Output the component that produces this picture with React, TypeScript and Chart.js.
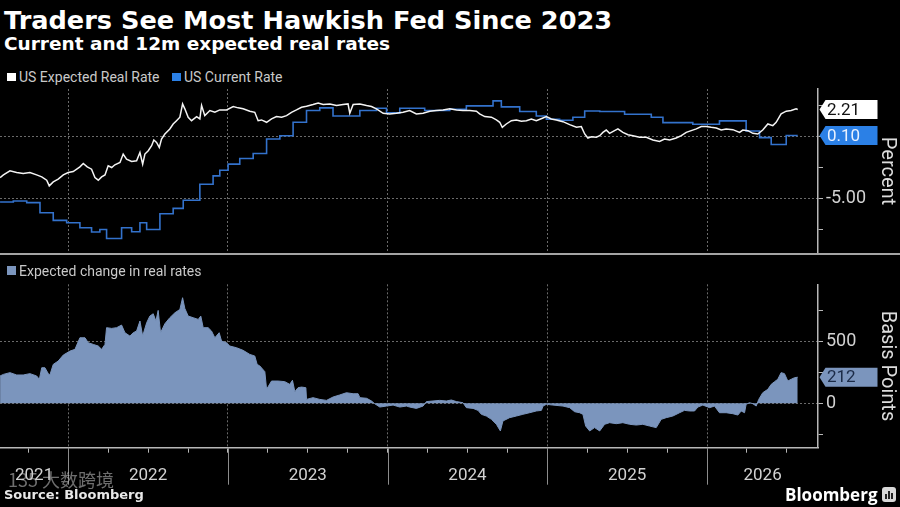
import React, { useEffect, useRef } from "react";
import { Chart, registerables } from "chart.js";

Chart.register(...registerables);

// ---------- axis definitions ----------
const X_MIN = 2021.5726;
const X_MAX = 2026.695;
const yearBoundaries = [2022, 2023, 2024, 2025, 2026];
const quarterTicks = [
  2021.75, 2022, 2022.25, 2022.5, 2022.75, 2023, 2023.25, 2023.5, 2023.75,
  2024, 2024.25, 2024.5, 2024.75, 2025, 2025.25, 2025.5, 2025.75, 2026,
  2026.25, 2026.5,
];
const yearLabels = ["2021", "2022", "2023", "2024", "2025", "2026"];
const yearLabelAt = [2021.786, 2022.5, 2023.5, 2024.5, 2025.5, 2026.348];

const percentTicks = [-7.5, -5, -2.5, 0, 2.5];
const percentMin = -9.44;
const percentMax = 3.87;
const bpTicks = [-250, 0, 250, 500, 750];
const bpMin = -360;
const bpMax = 966;

// ---------- series (decimal year, value) ----------
const expectedRealRate: [number, number][] = [
  [2021.573, -3.32], [2021.594, -3.1], [2021.635, -2.77], [2021.677, -2.91], [2021.718, -2.99],
  [2021.76, -2.91], [2021.802, -3.1], [2021.834, -3.26], [2021.865, -3.53], [2021.881, -3.99],
  [2021.906, -3.67], [2021.937, -3.45], [2021.969, -3.1], [2022.0, -2.91], [2022.031, -2.83],
  [2022.073, -2.45], [2022.094, -2.17], [2022.119, -2.45], [2022.146, -2.64], [2022.167, -3.32],
  [2022.188, -3.53], [2022.209, -3.26], [2022.23, -3.1], [2022.25, -2.36], [2022.272, -2.5],
  [2022.292, -2.28], [2022.324, -2.09], [2022.344, -1.41], [2022.365, -1.82], [2022.397, -2.01],
  [2022.428, -1.96], [2022.449, -1.28], [2022.466, -2.23], [2022.48, -1.41], [2022.501, -1.14],
  [2022.522, -0.73], [2022.536, -0.27], [2022.553, -0.46], [2022.57, -0.87], [2022.584, -0.19],
  [2022.605, 0.22], [2022.636, 0.63], [2022.657, 1.03], [2022.678, 1.3], [2022.699, 1.58],
  [2022.716, 2.66], [2022.73, 2.26], [2022.751, 1.58], [2022.772, 1.3], [2022.804, 1.63],
  [2022.824, 1.44], [2022.835, 2.53], [2022.855, 1.71], [2022.887, 2.12], [2022.918, 1.98],
  [2022.949, 2.17], [2022.991, 2.17], [2023.033, 2.45], [2023.064, 2.34], [2023.095, 2.26],
  [2023.137, 2.07], [2023.168, 1.98], [2023.189, 1.3], [2023.21, 1.36], [2023.242, 1.17],
  [2023.273, 1.44], [2023.304, 1.63], [2023.336, 1.58], [2023.367, 1.71], [2023.398, 1.98],
  [2023.429, 2.17], [2023.461, 2.39], [2023.492, 2.47], [2023.533, 2.61], [2023.565, 2.74],
  [2023.596, 2.61], [2023.638, 2.66], [2023.68, 2.53], [2023.721, 2.61], [2023.752, 2.66],
  [2023.763, 1.9], [2023.784, 2.61], [2023.826, 2.66], [2023.868, 2.53], [2023.899, 2.45],
  [2023.93, 2.26], [2023.972, 1.9], [2024.013, 1.85], [2024.055, 1.9], [2024.097, 1.98],
  [2024.138, 2.12], [2024.18, 1.85], [2024.222, 1.9], [2024.264, 2.07], [2024.305, 2.12],
  [2024.347, 2.17], [2024.389, 2.26], [2024.431, 2.17], [2024.472, 2.12], [2024.514, 2.12],
  [2024.556, 2.07], [2024.576, 1.85], [2024.608, 1.63], [2024.65, 1.58], [2024.681, 1.36],
  [2024.702, 1.17], [2024.718, 0.76], [2024.743, 1.03], [2024.775, 1.3], [2024.806, 1.36],
  [2024.837, 1.25], [2024.869, 1.3], [2024.9, 1.44], [2024.931, 1.3], [2024.973, 1.52],
  [2024.994, 1.63], [2025.025, 1.44], [2025.056, 1.36], [2025.098, 1.22], [2025.14, 0.98],
  [2025.182, 0.76], [2025.213, 0.82], [2025.234, 0.22], [2025.254, -0.11], [2025.276, 0.0],
  [2025.307, -0.05], [2025.328, 0.08], [2025.348, 0.35], [2025.369, 0.54], [2025.39, 0.27],
  [2025.421, 0.49], [2025.442, 0.63], [2025.473, 0.35], [2025.505, 0.16], [2025.536, 0.08],
  [2025.578, -0.05], [2025.62, -0.05], [2025.661, -0.27], [2025.703, -0.38], [2025.734, -0.19],
  [2025.766, -0.27], [2025.807, -0.11], [2025.839, 0.08], [2025.87, 0.35], [2025.901, 0.49],
  [2025.933, 0.63], [2025.964, 0.82], [2025.995, 0.82], [2026.026, 0.76], [2026.058, 0.71],
  [2026.089, 0.54], [2026.12, 0.63], [2026.162, 0.57], [2026.204, 0.35], [2026.224, 0.54],
  [2026.256, 0.49], [2026.287, 0.27], [2026.318, 0.22], [2026.349, 0.54], [2026.381, 1.03],
  [2026.412, 0.9], [2026.433, 1.17], [2026.464, 1.85], [2026.496, 2.07], [2026.527, 2.12],
  [2026.558, 2.26], [2026.568, 2.21],
];

// step starts (value holds until the next date)
const currentRate: [number, number][] = [
  [2021.573, -5.3], [2021.656, -5.22], [2021.74, -5.35], [2021.823, -6.17], [2021.906, -6.79],
  [2021.99, -6.98], [2022.073, -7.39], [2022.146, -7.74], [2022.198, -7.53], [2022.24, -8.26],
  [2022.334, -7.39], [2022.397, -7.72], [2022.449, -6.98], [2022.491, -7.53], [2022.574, -6.25],
  [2022.657, -5.82], [2022.72, -5.16], [2022.824, -3.86], [2022.907, -3.18], [2022.949, -2.72],
  [2023.001, -2.23], [2023.074, -1.77], [2023.158, -1.36], [2023.242, -0.19], [2023.325, 0.08],
  [2023.408, 1.17], [2023.492, 2.12], [2023.575, 2.34], [2023.658, 1.68], [2023.826, 2.12],
  [2023.93, 2.31], [2023.993, 1.93], [2024.076, 2.31], [2024.232, 2.12], [2024.389, 2.23],
  [2024.493, 2.5], [2024.66, 2.91], [2024.712, 2.42], [2024.827, 2.04], [2024.931, 1.68],
  [2024.994, 1.41], [2025.077, 1.33], [2025.16, 1.58], [2025.234, 2.09], [2025.328, 2.04],
  [2025.484, 1.82], [2025.651, 1.58], [2025.724, 1.14], [2025.911, 1.01], [2026.078, 1.28],
  [2026.245, 0.46], [2026.329, -0.08], [2026.402, -0.63], [2026.496, 0.1], [2026.568, 0.1],
];

const expectedChangeBp: [number, number][] = [
  [2021.573, 222], [2021.594, 235], [2021.635, 249], [2021.677, 230], [2021.718, 230],
  [2021.76, 241], [2021.802, 222], [2021.819, 195], [2021.834, 289], [2021.854, 289],
  [2021.875, 241], [2021.885, 230], [2021.906, 316], [2021.937, 343], [2021.969, 392],
  [2022.011, 424], [2022.042, 438], [2022.073, 532], [2022.105, 532], [2022.125, 492],
  [2022.157, 478], [2022.188, 465], [2022.209, 438], [2022.23, 478], [2022.24, 614],
  [2022.272, 608], [2022.303, 614], [2022.334, 635], [2022.355, 573], [2022.386, 546],
  [2022.407, 573], [2022.428, 587], [2022.449, 668], [2022.466, 546], [2022.491, 654],
  [2022.511, 708], [2022.532, 727], [2022.549, 668], [2022.563, 754], [2022.578, 573],
  [2022.605, 646], [2022.636, 695], [2022.668, 735], [2022.699, 762], [2022.716, 857],
  [2022.73, 770], [2022.751, 708], [2022.782, 695], [2022.814, 681], [2022.83, 708],
  [2022.845, 614], [2022.876, 614], [2022.897, 587], [2022.918, 532], [2022.945, 573],
  [2022.96, 505], [2022.991, 492], [2023.012, 465], [2023.054, 451], [2023.095, 430],
  [2023.137, 397], [2023.168, 384], [2023.183, 316], [2023.2, 303], [2023.231, 257],
  [2023.242, 114], [2023.273, 181], [2023.314, 181], [2023.356, 176], [2023.387, 154],
  [2023.404, 187], [2023.419, 95], [2023.439, 127], [2023.461, 132], [2023.488, 127],
  [2023.492, 32], [2023.533, 46], [2023.575, 32], [2023.617, 24], [2023.658, 51],
  [2023.7, 68], [2023.742, 86], [2023.784, 78], [2023.815, 78], [2023.826, 46],
  [2023.868, 41], [2023.899, 19], [2023.919, -3], [2023.951, -30], [2023.993, -22],
  [2024.034, -14], [2024.076, -30], [2024.118, -22], [2024.138, -30], [2024.18, -41],
  [2024.222, -22], [2024.243, 14], [2024.284, 19], [2024.326, 24], [2024.368, 19],
  [2024.399, 27], [2024.431, 14], [2024.472, 5], [2024.493, -35], [2024.535, -41],
  [2024.566, -57], [2024.587, -89], [2024.618, -103], [2024.65, -130], [2024.681, -170],
  [2024.706, -224], [2024.722, -143], [2024.764, -116], [2024.806, -103], [2024.847, -89],
  [2024.889, -76], [2024.931, -62], [2024.963, -57], [2024.973, -22], [2024.994, -8],
  [2025.035, -14], [2025.098, -22], [2025.14, -35], [2025.171, -68], [2025.202, -76],
  [2025.223, -89], [2025.24, -184], [2025.265, -224], [2025.296, -197], [2025.328, -224],
  [2025.359, -170], [2025.39, -157], [2025.432, -165], [2025.473, -157], [2025.515, -170],
  [2025.557, -176], [2025.598, -170], [2025.64, -184], [2025.682, -197], [2025.713, -130],
  [2025.745, -116], [2025.786, -103], [2025.828, -76], [2025.859, -57], [2025.891, -62],
  [2025.922, -62], [2025.943, -30], [2025.974, -14], [2026.016, -35], [2026.047, -22],
  [2026.078, -76], [2026.12, -76], [2026.162, -84], [2026.193, -95], [2026.214, -62],
  [2026.235, -76], [2026.245, -8], [2026.266, 5], [2026.287, -3], [2026.308, -22],
  [2026.324, 32], [2026.349, 86], [2026.381, 114], [2026.402, 154], [2026.423, 176],
  [2026.443, 195], [2026.464, 249], [2026.485, 241], [2026.506, 181], [2026.527, 195],
  [2026.548, 208], [2026.568, 212],
];

// ---------- styling ----------
const WHITE_LINE = "#f4f4f4";
const BLUE_LINE = "#3372cc";
const BLUE_BOX = "#2b80e6";
const AREA = "#7b95bd";
const GRID = "#6a6a6a";
const AXIS = "#b8b8b8";
const TEXT = "#d2d2d2";
const FONT = "Roboto";

const near = (a: number, b: number) => Math.abs(a - b) < 1e-6;
const isYear = (v: number) => yearBoundaries.some((y) => near(y, v));
const isQuarter = (v: number) => quarterTicks.some((y) => near(y, v));
const TRANSPARENT = "rgba(0,0,0,0)";

function zeroPadding(scale: any) {
  scale.paddingTop = 0;
  scale.paddingBottom = 0;
  scale.paddingLeft = 0;
  scale.paddingRight = 0;
}

const valueBoxes = {
  id: "valueBoxes",
  afterDraw(chart: any, _args: any, opts: any) {
    const { ctx, chartArea } = chart;
    const yScale = chart.scales.y;
    (opts.boxes || []).forEach((b: any) => {
      const data = chart.data.datasets[b.dataset].data;
      const last = data[data.length - 1].y;
      const y = yScale.getPixelForValue(last);
      const tip = chartArea.right + 1.5;
      const body = tip + 6;
      const right = tip + 58;
      const h = 19;
      ctx.save();
      ctx.beginPath();
      ctx.moveTo(tip, y);
      ctx.lineTo(body, y - h / 2);
      ctx.lineTo(right, y - h / 2);
      ctx.lineTo(right, y + h / 2);
      ctx.lineTo(body, y + h / 2);
      ctx.closePath();
      ctx.fillStyle = b.fill;
      ctx.fill();
      ctx.font = `17px ${FONT}`;
      ctx.fillStyle = b.color;
      ctx.textBaseline = "middle";
      ctx.textAlign = "left";
      ctx.fillText(last.toFixed(b.decimals), body + 1.5, y + 1);
      ctx.restore();
    });
  },
};

const yearExtensions = {
  id: "yearExtensions",
  afterDraw(chart: any) {
    const { ctx, chartArea } = chart;
    const x = chart.scales.x;
    ctx.save();
    ctx.strokeStyle = "#8c8c8c";
    ctx.lineWidth = 1;
    yearBoundaries.forEach((v) => {
      const px = Math.round(x.getPixelForValue(v)) + 0.5;
      ctx.beginPath();
      ctx.moveTo(px, chartArea.bottom);
      ctx.lineTo(px, chartArea.bottom + 37);
      ctx.stroke();
    });
    ctx.restore();
  },
};

function yAxis(min: number, max: number, ticks: number[], major: number, fmt: (v: number) => string, title: string) {
  return {
    position: "right",
    min,
    max,
    afterBuildTicks: (s: any) => {
      s.ticks = ticks.map((v) => ({ value: v }));
    },
    afterFit: (s: any) => {
      s.width = 82;
      zeroPadding(s);
    },
    grid: {
      drawOnChartArea: true,
      drawTicks: true,
      tickLength: 5,
      color: (c: any) => (c.tick && Math.abs(c.tick.value % major) < 1e-9 ? GRID : TRANSPARENT),
      tickColor: AXIS,
      lineWidth: 1,
    },
    border: { display: true, color: AXIS, width: 1.5, dash: [2, 2] },
    ticks: {
      padding: 3,
      color: TEXT,
      font: { family: FONT, size: 18 },
      autoSkip: false,
      callback: (v: any) => (Math.abs(v % major) < 1e-9 ? fmt(v) : ""),
    },
    title: {
      display: true,
      text: title,
      color: "#dcdcdc",
      font: { family: FONT, size: 20 },
      padding: { top: 1, bottom: 0 },
    },
  };
}

function TopChart() {
  const ref = useRef<HTMLCanvasElement | null>(null);
  useEffect(() => {
    if (!ref.current) return;
    const chart = new Chart(ref.current, {
      type: "line",
      data: {
        datasets: [
          {
            label: "US Expected Real Rate",
            data: expectedRealRate.map(([x, y]) => ({ x, y })),
            borderColor: WHITE_LINE,
            borderWidth: 1.5,
            pointRadius: 0,
            tension: 0,
          },
          {
            label: "US Current Rate",
            data: currentRate.map(([x, y]) => ({ x, y })),
            borderColor: BLUE_LINE,
            borderWidth: 1.6,
            pointRadius: 0,
            stepped: true,
          },
        ],
      },
      options: {
        responsive: false,
        animation: false,
        layout: { padding: { top: 89, bottom: 3, left: 0, right: 0 } },
        plugins: {
          legend: { display: false },
          tooltip: { enabled: false },
          valueBoxes: {
            boxes: [
              { dataset: 0, fill: "#ffffff", color: "#111111", decimals: 2 },
              { dataset: 1, fill: BLUE_BOX, color: "#e9f1ff", decimals: 2 },
            ],
          },
        } as any,
        scales: {
          x: {
            type: "linear",
            min: X_MIN,
            max: X_MAX,
            afterBuildTicks: (s: any) => {
              s.ticks = yearBoundaries.map((v) => ({ value: v }));
            },
            afterFit: (s: any) => {
              s.height = 0;
              zeroPadding(s);
            },
            grid: {
              drawTicks: false,
              color: (c: any) => (c.tick && isYear(c.tick.value) ? GRID : TRANSPARENT),
              lineWidth: 1,
            },
            border: { display: false, dash: [2, 2] },
            ticks: { display: false },
          },
          y: yAxis(percentMin, percentMax, percentTicks, 5, (v) => v.toFixed(2), "Percent"),
        } as any,
      },
      plugins: [valueBoxes],
    } as any);
    return () => chart.destroy();
  }, []);
  return (
    <canvas
      ref={ref}
      width={900}
      height={256}
      style={{ position: "absolute", left: 0, top: 0, width: 900, height: 256 }}
    />
  );
}

function BottomChart() {
  const ref = useRef<HTMLCanvasElement | null>(null);
  useEffect(() => {
    if (!ref.current) return;
    const chart = new Chart(ref.current, {
      type: "line",
      data: {
        datasets: [
          {
            label: "Expected change in real rates",
            data: expectedChangeBp.map(([x, y]) => ({ x, y })),
            borderColor: AREA,
            backgroundColor: AREA,
            borderWidth: 1,
            pointRadius: 0,
            fill: "origin",
            tension: 0,
          },
        ],
      },
      options: {
        responsive: false,
        animation: false,
        layout: { padding: { top: 28.3, bottom: 0, left: 0, right: 0 } },
        plugins: {
          legend: { display: false },
          tooltip: { enabled: false },
          valueBoxes: {
            boxes: [{ dataset: 0, fill: AREA, color: "#1b2b47", decimals: 0 }],
          },
        } as any,
        scales: {
          x: {
            type: "linear",
            min: X_MIN,
            max: X_MAX,
            afterBuildTicks: (s: any) => {
              const vals = [...quarterTicks, yearLabelAt[0], yearLabelAt[yearLabelAt.length - 1]].sort((a, b) => a - b);
              s.ticks = vals.map((v) => ({ value: v }));
            },
            afterFit: (s: any) => {
              s.height = 59.3;
              zeroPadding(s);
            },
            grid: {
              drawTicks: true,
              tickLength: 5,
              color: (c: any) => (c.tick && isYear(c.tick.value) ? GRID : TRANSPARENT),
              tickColor: (c: any) => (c.tick && isQuarter(c.tick.value) ? AXIS : TRANSPARENT),
              lineWidth: 1,
            },
            border: { display: true, color: AXIS, width: 1.5, dash: [2, 2] },
            ticks: {
              autoSkip: false,
              maxRotation: 0,
              padding: 13,
              color: TEXT,
              font: { family: FONT, size: 17 },
              callback: (v: any) => {
                const i = yearLabelAt.findIndex((y) => near(y, v));
                return i >= 0 ? yearLabels[i] : "";
              },
            },
          },
          y: yAxis(bpMin, bpMax, bpTicks, 500, (v) => String(v), "Basis Points"),
        } as any,
      },
      plugins: [valueBoxes, yearExtensions],
    } as any);
    return () => chart.destroy();
  }, []);
  return (
    <canvas
      ref={ref}
      width={900}
      height={251}
      style={{ position: "absolute", left: 0, top: 256, width: 900, height: 251 }}
    />
  );
}

const legendText: React.CSSProperties = {
  position: "absolute",
  font: `14px ${FONT}`,
  color: "#c9c9c9",
  whiteSpace: "nowrap",
  lineHeight: "16px",
};

export default function App() {
  return (
    <div
      style={{
        position: "fixed",
        left: 0,
        top: 0,
        width: 900,
        height: 507,
        background: "#000",
        overflow: "hidden",
        fontFamily: FONT,
      }}
    >
      <div
        style={{
          position: "absolute",
          left: 4,
          top: 3.5,
          font: '700 25.6px "DejaVu Sans"',
          lineHeight: "32px",
          color: "#ffffff",
          whiteSpace: "nowrap",
        }}
      >
        Traders See Most Hawkish Fed Since 2023
      </div>
      <div
        style={{
          position: "absolute",
          left: 4,
          top: 32.6,
          font: '700 18.5px "DejaVu Sans"',
          lineHeight: "22px",
          color: "#ffffff",
          whiteSpace: "nowrap",
        }}
      >
        Current and 12m expected real rates
      </div>

      {/* top legend */}
      <div style={{ position: "absolute", left: 7, top: 72.5, width: 8.5, height: 8.5, background: "#ffffff" }} />
      <div style={{ ...legendText, left: 19, top: 69 }}>US Expected Real Rate</div>
      <div style={{ position: "absolute", left: 172, top: 72.5, width: 8.5, height: 8.5, background: BLUE_BOX }} />
      <div style={{ ...legendText, left: 184, top: 69 }}>US Current Rate</div>

      <TopChart />

      {/* panel separator */}
      <div style={{ position: "absolute", left: 0, top: 252.5, width: 900, height: 2, background: "#a4a4a4" }} />

      {/* bottom legend */}
      <div style={{ position: "absolute", left: 7, top: 266, width: 8.5, height: 8.5, background: AREA }} />
      <div style={{ ...legendText, left: 19, top: 262.5 }}>Expected change in real rates</div>

      <BottomChart />

      {/* watermark */}
      <div
        style={{
          position: "absolute",
          left: 8,
          top: 469,
          font: '18px "Noto Sans CJK SC"',
          color: "rgba(200,200,200,0.55)",
          whiteSpace: "nowrap",
          lineHeight: "20px",
        }}
      >
        135 大数跨境
      </div>

      <div
        style={{
          position: "absolute",
          left: 4,
          top: 486,
          font: '700 13px "DejaVu Sans"',
          lineHeight: "18px",
          color: "#e8e8e8",
          whiteSpace: "nowrap",
        }}
      >
        Source: Bloomberg
      </div>

      <div
        style={{
          position: "absolute",
          left: 785,
          top: 484,
          font: '700 17px "Open Sans"',
          lineHeight: "22px",
          color: "#ffffff",
          whiteSpace: "nowrap",
        }}
      >
        Bloomberg
      </div>
      <div
        style={{
          position: "absolute",
          left: 882,
          top: 487,
          width: 14,
          height: 15,
          background: "#d8d8d8",
          borderRadius: 3,
        }}
      >
        <div style={{ position: "absolute", left: 3, top: 7, width: 2, height: 5, background: "#222" }} />
        <div style={{ position: "absolute", left: 6, top: 4, width: 2, height: 8, background: "#222" }} />
        <div style={{ position: "absolute", left: 9, top: 6, width: 2, height: 6, background: "#222" }} />
      </div>
    </div>
  );
}
